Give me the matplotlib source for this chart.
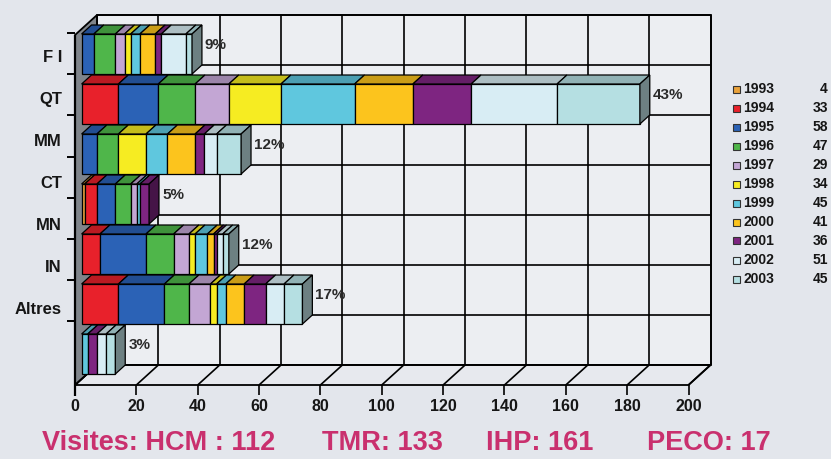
import matplotlib
matplotlib.use("Agg")
import matplotlib.pyplot as plt
from matplotlib.patches import Polygon, Rectangle
from matplotlib import font_manager
from matplotlib.colors import to_rgb

# ---------------------------------------------------------------- data
categories = ["F I", "QT", "MM", "CT", "MN", "IN", "Altres"]
years = ["1993", "1994", "1995", "1996", "1997", "1998",
         "1999", "2000", "2001", "2002", "2003"]
year_totals = [4, 33, 58, 47, 29, 34, 45, 41, 36, 51, 45]

# visits per category, one value per year (1993 .. 2003)
fi_visits = [0, 0, 4, 7, 3, 2, 3, 5, 2, 8, 2]
qt_visits = [0, 12, 13, 12, 11, 17, 24, 19, 19, 28, 27]
mm_visits = [0, 0, 5, 7, 0, 9, 7, 9, 3, 4, 8]
ct_visits = [1, 4, 6, 5, 2, 0, 1, 0, 3, 0, 0]
mn_visits = [0, 6, 15, 9, 5, 2, 4, 2, 1, 2, 2]
in_visits = [0, 12, 15, 8, 7, 2, 3, 6, 7, 6, 6]
altres_visits = [0, 0, 0, 0, 0, 0, 2, 0, 3, 3, 3]
shares = ["9%", "43%", "12%", "5%", "12%", "17%", "3%"]

x_ticks = list(range(0, 201, 20))
visit_names = ["Visites: HCM ", "TMR", "IHP", "PECO"]
visit_counts = [112, 133, 161, 17]

rows = [fi_visits, qt_visits, mm_visits, ct_visits,
        mn_visits, in_visits, altres_visits]

# ---------------------------------------------------------------- style
year_colors = ["#e9a23b", "#e8212b", "#2b62b6", "#4fb64a", "#c3a6d4",
               "#f6ec22", "#5fc7de", "#fcc41d", "#7e2581", "#d8edf4",
               "#b5dfe2"]
BG = "#e3e6ec"
WALL = "#eceef2"
FLOOR = "#e7e9ee"
SIDE_WALL = "#80858b"
MAGENTA = "#c9306e"
INK = "#161616"

names = {f.name for f in font_manager.fontManager.ttflist}
NARROW = "Liberation Sans Narrow" if "Liberation Sans Narrow" in names else "Liberation Sans"
SANS = "Liberation Sans" if "Liberation Sans" in names else "DejaVu Sans"
plt.rcParams["font.family"] = [SANS, "DejaVu Sans"]


def shade(color, f):
    r, g, b = to_rgb(color)
    return (r * f, g * f, b * f)


# ---------------------------------------------------------------- canvas
W, H = 831, 459
fig = plt.figure(figsize=(W / 100, H / 100), dpi=100, facecolor=BG)
ax = fig.add_axes([0, 0, 1, 1])
ax.set_facecolor(BG)
ax.axis("off")

PX_UNIT = 3.0675      # pixels per visit on the front plane
X0_PX = 75            # pixel column of value 0 on the front plane
ROW_PX = 50           # pixels per category row
ROW0_PX = 35          # pixel row of the top of the front plane
ax.set_xlim(-X0_PX / PX_UNIT, (W - X0_PX) / PX_UNIT)
ax.set_ylim((H - ROW0_PX) / ROW_PX, -ROW0_PX / ROW_PX)

DX = 22 / PX_UNIT     # depth shift, value units
DY = 20 / ROW_PX      # depth shift, row units
N = len(categories)
VMAX = x_ticks[-1]


def P(v, r, z):
    """Project (value, row, depth) onto the axes plane."""
    return (v + DX * z, r - DY * z)


def px2v(px):
    return (px - X0_PX) / PX_UNIT


def py2r(py):
    return (py - ROW0_PX) / ROW_PX


def poly(pts, fc, ec="black", lw=1.0, z=1):
    ax.add_patch(Polygon(pts, closed=True, fc=fc, ec=ec, lw=lw,
                         joinstyle="miter", zorder=z))


def line(p, q, lw=1.2, color="black", z=2):
    ax.plot([p[0], q[0]], [p[1], q[1]], color=color, lw=lw,
            solid_capstyle="butt", zorder=z)


# walls and floor
poly([P(0, 0, 1), P(VMAX, 0, 1), P(VMAX, N, 1), P(0, N, 1)], WALL, lw=1.3)
poly([P(0, N, 0), P(VMAX, N, 0), P(VMAX, N, 1), P(0, N, 1)], FLOOR, lw=1.3)
poly([P(0, 0, 0), P(0, 0, 1), P(0, N, 1), P(0, N, 0)], SIDE_WALL, lw=1.3)

for v in x_ticks:
    line(P(v, 0, 1), P(v, N, 1))
    line(P(v, N, 0), P(v, N, 1))
    line(P(v, N, 0), (v, N + 0.2))
    ax.text(v, N + 0.44, str(v), ha="center", va="center",
            fontsize=11.5, fontweight="bold", family=[NARROW, "DejaVu Sans"],
            color=INK)
for k in range(N + 1):
    line(P(0, k, 1), P(VMAX, k, 1))
line(P(0, 0, 0), (0, N + 0.22), lw=1.6)

# category axis: ticks and labels
for k in range(N + 1):
    r = py2r(33 + 41.2 * k)
    line((px2v(67), r), (0, r), lw=1.4)
for i, name in enumerate(categories):
    ax.text(px2v(62), py2r(58 + 42 * i), name, ha="right", va="center",
            fontsize=12, fontweight="bold", color=INK)

# stacked 3-D bars
Z0, Z1 = 0.3, 0.75
for i, vals in enumerate(rows):
    top, bot = i + 0.1, i + 0.9
    left = 0
    last_color = None
    for v, c in zip(vals, year_colors):
        if v <= 0:
            continue
        right = left + v
        poly([P(left, top, Z0), P(right, top, Z0),
              P(right, bot, Z0), P(left, bot, Z0)], c, lw=0.9, z=5)
        poly([P(left, top, Z0), P(right, top, Z0),
              P(right, top, Z1), P(left, top, Z1)], shade(c, 0.8), lw=0.9, z=5)
        left = right
        last_color = c
    side = shade(last_color, 0.55) if last_color != year_colors[-1] else "#6d8082"
    poly([P(left, top, Z0), P(left, top, Z1),
          P(left, bot, Z1), P(left, bot, Z0)], side, lw=0.9, z=5)
    lx, ly = P(left, i + 0.5, Z1)
    ax.text(lx + 1.0, ly, shares[i], ha="left", va="center",
            fontsize=11, fontweight="bold", color="#2a2a2a", zorder=6)

# legend with yearly totals
for k, (yr, tot, c) in enumerate(zip(years, year_totals, year_colors)):
    yc = 1 - (89 + 19.0 * k) / H
    fig.patches.append(Rectangle((733 / W, yc - 3.5 / H), 7 / W, 7 / H,
                                 transform=fig.transFigure, fc=c,
                                 ec="#333333", lw=0.8))
    fig.text(743 / W, yc, yr, ha="left", va="center", fontsize=10,
             fontweight="bold", color=INK)
    fig.text(828 / W, yc, str(tot), ha="right", va="center", fontsize=10,
             fontweight="bold", color=INK)

# visit summary line
for name, count, x in zip(visit_names, visit_counts, [42, 322, 486, 647]):
    fig.text(x / W, 1 - 443 / H, f"{name}: {count}", ha="left", va="center",
             fontsize=19.5, fontweight="bold", color=MAGENTA)

fig.savefig("out.png", dpi=100, facecolor=BG)
